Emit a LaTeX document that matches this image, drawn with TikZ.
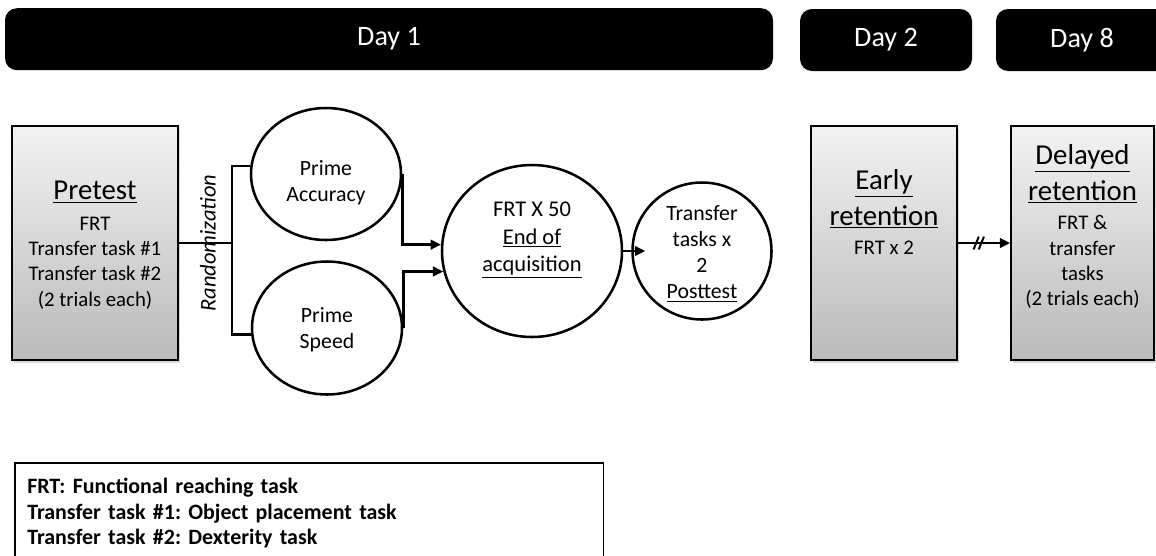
\documentclass[tikz,border=0pt]{standalone}
\usepackage{fontspec}
\setmainfont{Carlito}
\usetikzlibrary{calc, shapes, shadows, arrows.meta}

\frenchspacing
\newcommand{\stagehead}[1]{{\fontsize{20.5}{24}\selectfont\underline{#1}}}

\begin{document}
\begin{tikzpicture}[>={Triangle[length=2.6mm, width=2.4mm]}]
    \tikzstyle{daybar} = [rectangle, rounded corners=.3cm, fill=black, text=white,
        minimum height=1.55cm, font=\fontsize{20}{24}\selectfont]
    \tikzstyle{phasebox} = [rectangle, draw=black, line width=1.2pt, top color=black!5,
        bottom color=black!27, minimum height=5.85cm,
        drop shadow={shadow xshift=.05cm, shadow yshift=-.08cm, opacity=.3}]
    \tikzstyle{boxtext} = [align=center, inner sep=0pt, anchor=north,
        font=\fontsize{14.8}{18}\selectfont]
    \tikzstyle{session} = [ellipse, draw=black, fill=white, line width=1.8pt, inner sep=0pt]
    \tikzstyle{sessiontext} = [align=center, inner sep=0pt, font=\fontsize{15.5}{18.5}\selectfont]
    \tikzstyle{link} = [line width=1.8pt]

    \useasboundingbox (0, 0) rectangle (28.9, -13.875);
    \clip (0, 0) rectangle (28.9, -13.875);

    % Days ----------------------------------------------
    \node (d1) at (9.725, -0.98) [daybar, minimum width=19.2cm] {Day 1};
    \node (d2) at (22.15, -1) [daybar, minimum width=4.3cm] {Day 2};
    \node (d8) at (27.05, -1) [daybar, minimum width=4.3cm] {Day 8};

    % Tests ---------------------------------------------
    \node (pre) at (2.375, -6.075) [phasebox, minimum width=4.15cm] {};
    \node (pre_txt) at ($(pre.north) + (0, -1.4)$) [boxtext]
        {\stagehead{Pretest}\\[3.5pt] FRT\\ Transfer task \#1\\ Transfer task \#2\\ (2 trials each)};

    \node (early) at (22.1, -6.075) [phasebox, minimum width=3.65cm] {};
    \node (early_txt) at ($(early.north) + (0, -1.1)$) [boxtext]
        {\stagehead{Early}\\[5pt] \stagehead{retention}\\[3pt] FRT x 2};

    \node (late) at (27.0625, -6.075) [phasebox, minimum width=3.575cm] {};
    \node (late_txt) at ($(late.north) + (0, -.48)$) [boxtext]
        {\stagehead{Delayed}\\[5pt] \stagehead{retention}\\[3pt] FRT \&\\ transfer\\ tasks\\ (2 trials each)};
    % ---------------------------------------------------

    % Practice groups
    \node (acc) at (8.15, -4.35) [session, minimum width=3.75cm, minimum height=3.3cm] {};
    \node (acc_txt) at ($(acc) + (0, -.22)$) [sessiontext] {Prime\\ Accuracy};
    \node (spd) at (8.175, -8.2) [session, minimum width=3.75cm, minimum height=3.325cm] {};
    \node (spd_txt) at ($(spd) + (0, -.05)$) [sessiontext] {Prime\\ Speed};

    \node (rand) at ($(pre.east) + (.725, 0)$) [rotate=90, inner sep=0pt,
        font=\fontsize{16}{19}\selectfont\itshape] {Randomization};
    \coordinate (split) at ($(pre.east) + (1.325, 0)$);

    \draw [link] (pre.east) -- (split);
    \draw [link] (acc.174) -| (split) |- (spd.185);

    % Acquisition and posttest
    \node (frt) at (13.3, -6.275) [session, minimum width=4.5cm, minimum height=4.3cm] {};
    \node (frt_txt) at ($(frt) + (0, .27)$) [sessiontext, font=\fontsize{16}{19.5}\selectfont]
        {FRT X 50\\ \underline{End of}\\ \underline{acquisition}};
    \node (tr) at (17.55, -6.275) [session, minimum width=3.475cm, minimum height=3.425cm] {};
    \node (tr_txt) at ($(tr) + (0, -.07)$) [sessiontext]
        {Transfer\\ tasks x\\ 2\\ \underline{Posttest}};

    \draw [link, ->] (acc.east) |- (frt.176);
    \draw [link, ->] (spd.east) |- (frt.193);
    \draw [link, ->] (frt.east) -- ($(tr.west) + (.35, 0)$);

    % Retention
    \coordinate (brk) at ($(early.east)!.4!(late.west)$);
    \draw [link, ->] (early.east) -- (late.west);
    \draw [line width=1.4pt] ($(brk) + (-.13, -.16)$) -- ($(brk) + (0, .16)$)
        ($(brk) + (0, -.16)$) -- ($(brk) + (.13, .16)$);

    % Legend --------------------------------------------
    \node (legend) at (0.375, -11.575) [anchor=north west, align=left, text width=14.1cm,
        inner xsep=.3cm, inner ysep=.38cm, font=\fontsize{15.6}{17.9}\selectfont\bfseries]
        {FRT: Functional reaching task\\ Transfer task \#1: Object placement task\\ Transfer task \#2: Dexterity task};
    \draw [line width=1pt] ($(legend.north west) + (0, -3)$) -- (legend.north west)
        -- (legend.north east) -- ++(0, -3);
\end{tikzpicture}
\end{document}
